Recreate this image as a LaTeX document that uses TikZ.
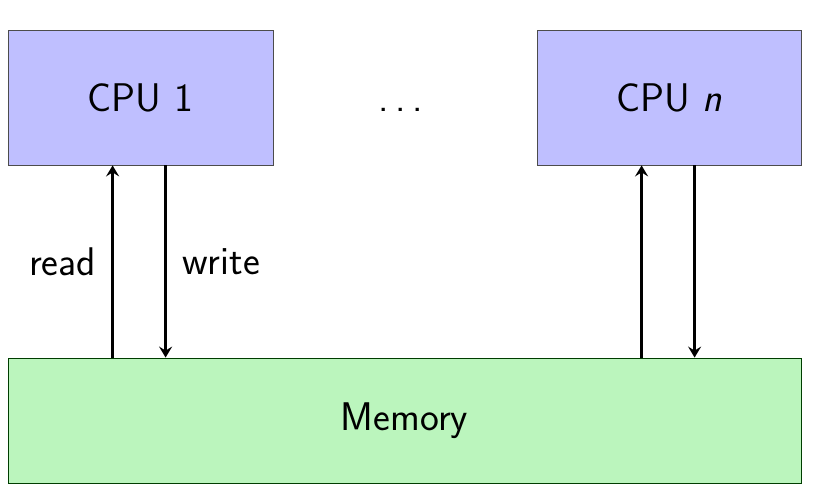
\documentclass[tikz,border=0pt]{standalone}
\usepackage{fontspec}
\usetikzlibrary{arrows.meta,calc}
\definecolor{cpufill}{RGB}{191,191,255}
\definecolor{memfill}{RGB}{187,245,189}
\tikzset{
  bigfont/.style={font=\sffamily\fontsize{40}{48}\selectfont},
  cpubox/.style={draw=black!70, line width=0.8pt, fill=cpufill, minimum width=265pt, minimum height=135pt, inner sep=0pt, bigfont},
  membox/.style={draw=black!60!green!60!black, line width=0.8pt, fill=memfill, minimum width=793pt, minimum height=125pt, inner sep=0pt, bigfont},
  arr/.style={line width=3.2pt, -{Stealth[length=11pt,width=13pt,inset=4pt]}},
  lbl/.style={bigfont, inner sep=15pt}
}
\begin{document}
\begin{tikzpicture}[x=1pt,y=1pt]
\useasboundingbox (0,0) rectangle (820,500);
\node[cpubox] (cpu1) at (140.5,402.5) {CPU 1};
\node[cpubox, minimum width=264pt] (cpun) at (669,402.5) {CPU \textit{n}};
\node[membox] (mem) at (404.5,79.5) {Memory};
\node[bigfont, anchor=base, inner sep=0pt] (dots) at ($(cpu1.base)!0.5!(cpun.base)+(-4,0)$) {.\kern7pt.\kern7pt.};
\coordinate (r1) at ([xshift=105pt]cpu1.south west);
\coordinate (w1) at ([xshift=158pt]cpu1.south west);
\coordinate (rn) at ([xshift=105pt]cpun.south west);
\coordinate (wn) at ([xshift=158pt]cpun.south west);
\draw[arr] (r1 |- mem.north) -- node[lbl, left] {read} (r1);
\draw[arr] (w1) -- node[lbl, right] {write} (w1 |- mem.north);
\draw[arr] (rn |- mem.north) -- (rn);
\draw[arr] (wn) -- (wn |- mem.north);
\end{tikzpicture}
\end{document}
